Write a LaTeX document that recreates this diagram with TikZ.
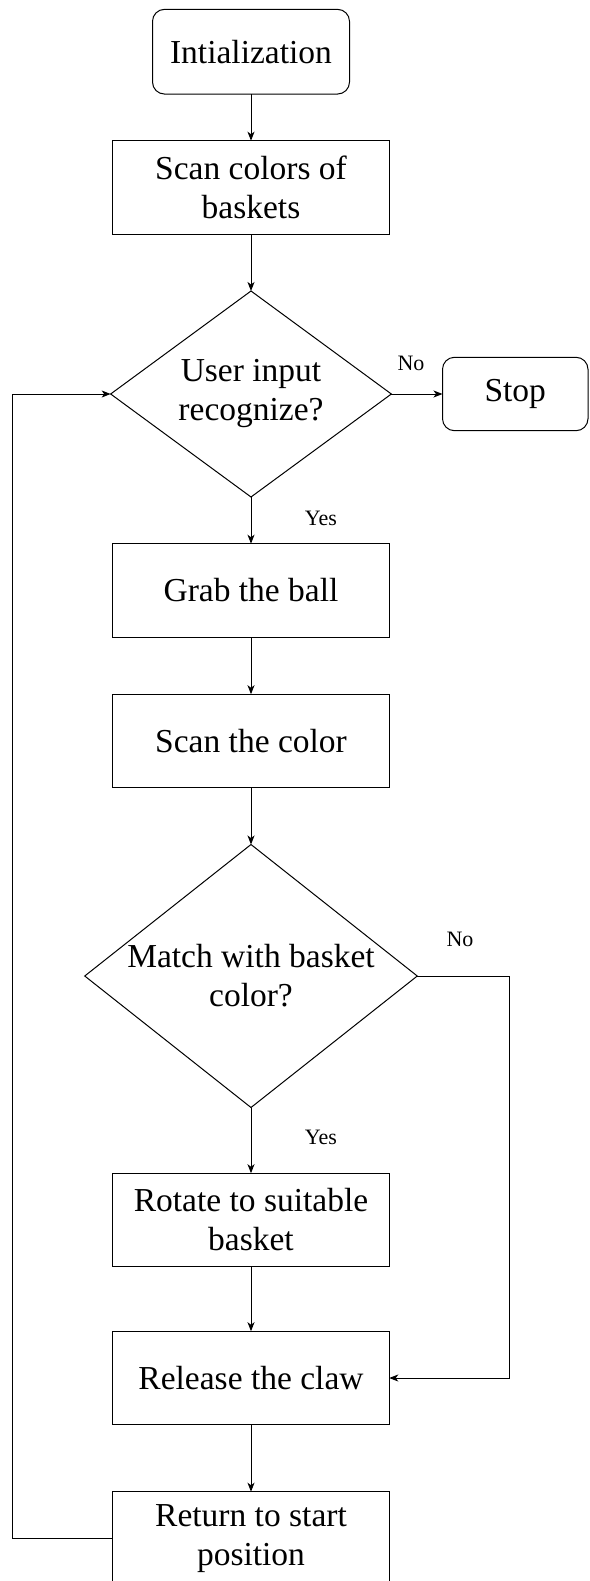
\documentclass[tikz,border=0pt]{standalone}
\usepackage{fontspec}
\setmainfont{Liberation Serif}
\usetikzlibrary{shapes.geometric,arrows.meta}
\begin{document}
\begin{tikzpicture}[x=1pt,y=-1pt,
  every node/.style={inner sep=0pt, outer sep=0pt},
  txt/.style={font=\fontsize{33.5}{39}\selectfont, align=center},
  procbox/.style={txt, draw, line width=1pt, minimum width=276.5pt, minimum height=93.6pt},
  termbox/.style={txt, draw, line width=1pt, rounded corners=12pt},
  decbox/.style={txt, draw, line width=1pt, diamond},
  lbl/.style={font=\fontsize{22}{24}\selectfont},
  flow/.style={draw, line width=1pt, -{Stealth[length=9pt,width=7pt,inset=2.5pt]}}
]
\useasboundingbox (0,0) rectangle (589,1581);
\node[termbox, minimum width=197pt, minimum height=84.7pt] (init) at (251,51.7) {Intialization};
\node[procbox] (scan1) at (251,187.5) {Scan colors of\\baskets};
\node[decbox, minimum width=280.7pt, minimum height=206pt, aspect=1.36] (d1) at (251,394) {User input\\recognize?};
\node[termbox, minimum width=145.5pt, minimum height=73.4pt] (stop) at (515.25,394) {Stop};
\node[procbox] (grab) at (251,590.5) {Grab the ball};
\node[procbox] (scan2) at (251,741) {Scan the color};
\node[decbox, minimum width=332.5pt, minimum height=263pt, aspect=1.26] (d2) at (251,976) {Match with basket\\color?};
\node[procbox] (rot) at (251,1220) {Rotate to suitable\\basket};
\node[procbox] (rel) at (251,1378) {Release the claw};
\node[procbox] (ret) at (251,1538.5) {Return to start\\position};

\node[lbl] (no1) at (411,363) {No};
\node[lbl] (yes1) at (321,518) {Yes};
\node[lbl] (no2) at (460,939) {No};
\node[lbl] (yes2) at (321,1137) {Yes};

\coordinate (c1) at (509,976);
\coordinate (c2) at (509,1378);
\coordinate (c3) at (12,1538.5);
\coordinate (c4) at (12,394);

\draw[flow] (init) -- (scan1);
\draw[flow] (scan1) -- (d1);
\draw[flow] (d1) -- (stop);
\draw[flow] (d1) -- (grab);
\draw[flow] (grab) -- (scan2);
\draw[flow] (scan2) -- (d2);
\draw[flow] (d2) -- (rot);
\draw[flow] (rot) -- (rel);
\draw[flow] (rel) -- (ret);
\draw[flow] (d2.east) -- (c1) -- (c2) -- (rel.east);
\draw[flow] (ret.west) -- (c3) -- (c4) -- (d1.west);
\end{tikzpicture}
\end{document}
